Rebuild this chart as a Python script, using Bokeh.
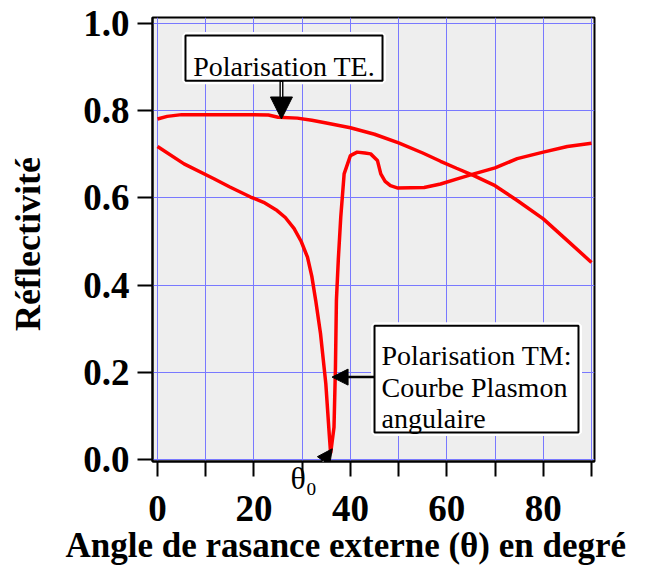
from bokeh.plotting import figure
from bokeh.models import (Range1d, FixedTicker, PrintfTickFormatter, Label, Arrow,
                          NormalHead, BoxAnnotation, LinearAxis, Title)
from bokeh.embed import file_html
from bokeh.resources import INLINE

# ---- data ----
te_angle = [0, 2, 5, 10, 15, 20, 23, 25, 29, 32, 35, 40, 45, 50, 55, 58.7, 62, 65.6,
            70, 74.6, 80, 85, 90]
te_refl = [0.781, 0.787, 0.791, 0.791, 0.791, 0.791, 0.790, 0.785, 0.783, 0.778, 0.772,
           0.761, 0.746, 0.726, 0.703, 0.684, 0.668, 0.651, 0.628, 0.594, 0.552, 0.502, 0.452]

tm_angle = [0, 5.5, 11.7, 15, 19.3, 22, 24.8, 26.5, 28.3, 29.8, 31.1, 32.0, 32.8, 33.8,
            34.9, 35.6, 35.9, 36.6, 36.9, 37.1, 37.5, 38.0, 38.7, 40.0, 41.4, 43.0, 44.2,
            45.6, 46.3, 47.2, 48.3, 49.7, 55.3, 58.7, 62, 65.6, 70, 74.6, 80, 85, 90]
tm_refl = [0.718, 0.678, 0.644, 0.625, 0.602, 0.590, 0.571, 0.555, 0.530, 0.500, 0.464,
           0.420, 0.365, 0.289, 0.174, 0.060, 0.014, 0.074, 0.212, 0.365, 0.460, 0.556,
           0.655, 0.697, 0.705, 0.703, 0.701, 0.686, 0.655, 0.638, 0.628, 0.623, 0.624,
           0.632, 0.643, 0.655, 0.669, 0.690, 0.705, 0.718, 0.7255]

x_label_ticks = [0, 20, 40, 60, 80]
x_all_ticks = [0, 10, 20, 30, 40, 50, 60, 70, 80, 90]
y_ticks = [0.0, 0.2, 0.4, 0.6, 0.8, 1.0]
theta_pos = 30.3

NBSP = "\u00a0"
x_title = "Angle de rasance externe (\u03b8) en degr\u00e9"
y_title = "R\u00e9flectivit\u00e9" + NBSP
theta_text = "\u03b8\u2080"
te_text = "Polarisation TE."
tm_lines = ["Polarisation TM:", "Courbe Plasmon", "angulaire"]

FONT = "Liberation Serif"
GRID = "#7878ff"

p = figure(frame_width=442, frame_height=444,
           min_border_left=152, min_border_top=17, min_border_right=51, min_border_bottom=109,
           x_range=Range1d(-1.04, 90.62), y_range=Range1d(-0.0046, 1.0138),
           output_backend="svg", toolbar_location=None)

p.background_fill_color = "#eeeeee"
p.border_fill_color = "white"
p.outline_line_color = "black"
p.outline_line_width = 2

# y axis
yt = FixedTicker(ticks=y_ticks, minor_ticks=[])
ya = p.yaxis[0]
ya.ticker = yt
ya.formatter = PrintfTickFormatter(format="%.1f")
ya.axis_line_width = 2
ya.axis_line_color = "black"
ya.major_tick_in = 0
ya.major_tick_out = 15
ya.major_tick_line_width = 2
ya.minor_tick_line_color = None
ya.major_label_text_font = FONT
ya.major_label_text_font_style = "bold"
ya.major_label_text_font_size = "37px"
ya.major_label_text_color = "black"
ya.major_label_standoff = 8
ya.axis_label = y_title
ya.axis_label_text_font = FONT
ya.axis_label_text_font_style = "bold"
ya.axis_label_text_font_size = "36px"
ya.axis_label_text_color = "black"
ya.axis_label_standoff = 32

# x axis A: tick marks every 10 and the theta_0 marker
xt = FixedTicker(ticks=[theta_pos], minor_ticks=x_all_ticks)
xa = p.xaxis[0]
xa.ticker = xt
xa.major_label_overrides = {theta_pos: theta_text}
xa.axis_line_width = 2
xa.axis_line_color = "black"
xa.major_tick_in = 0
xa.major_tick_out = 0
xa.minor_tick_in = 0
xa.minor_tick_out = 15
xa.minor_tick_line_width = 2
xa.minor_tick_line_color = "black"
xa.major_label_text_font = FONT
xa.major_label_text_font_size = "32px"
xa.major_label_text_color = "black"
xa.major_label_standoff = -17

# x axis B: numeric labels
xb = LinearAxis(ticker=FixedTicker(ticks=x_label_ticks, minor_ticks=[]))
xb.axis_line_color = None
xb.major_tick_line_color = None
xb.minor_tick_line_color = None
xb.major_tick_in = 0
xb.major_tick_out = 0
xb.minor_tick_in = 0
xb.minor_tick_out = 0
xb.major_label_text_font = FONT
xb.major_label_text_font_style = "bold"
xb.major_label_text_font_size = "37px"
xb.major_label_text_color = "black"
xb.major_label_standoff = -3
p.add_layout(xb, "below")

# x title (left aligned, shifted to match the reference)
p.add_layout(Title(text=x_title, align="left", offset=-87, vertical_align="top",
                   standoff=5, text_font=FONT, text_font_style="bold",
                   text_font_size="35px", text_color="black"), "below")

# grid (shares the axis tickers)
p.xgrid.ticker = xt
p.xgrid.grid_line_color = None
p.xgrid.minor_grid_line_color = GRID
p.xgrid.minor_grid_line_width = 1
p.ygrid.ticker = yt
p.ygrid.grid_line_color = GRID
p.ygrid.grid_line_width = 1

# curves
p.line(tm_angle, tm_refl, line_color="#ff0000", line_width=3.5)
p.line(te_angle, te_refl, line_color="#ff0000", line_width=3.5)

# TE box
for lw, lc in ((7, "white"), (2, "black")):
    p.add_layout(BoxAnnotation(left=5.8, right=46.66, top=0.9725, bottom=0.869,
                               fill_color="white", fill_alpha=1.0,
                               line_color=lc, line_alpha=1.0, line_width=lw))
p.add_layout(Label(x=7.4, y=0.902, text=te_text, text_font=FONT, text_font_size="28px",
                   text_color="black", text_baseline="alphabetic"))
# TE arrow (double shaft)
p.add_layout(Arrow(end=NormalHead(size=22, fill_color="black", line_color="black"),
                   x_start=25.7, y_start=0.869, x_end=25.7, y_end=0.781,
                   line_width=4, line_color="black"))
p.add_layout(Arrow(end=None, x_start=25.7, y_start=0.866, x_end=25.7, y_end=0.832,
                   line_width=1.2, line_color="white"))

# TM box
for lw, lc in ((7, "white"), (2, "black")):
    p.add_layout(BoxAnnotation(left=45.0, right=87.3, top=0.307, bottom=0.062,
                               fill_color="white", fill_alpha=1.0,
                               line_color=lc, line_alpha=1.0, line_width=lw))
for txt, yb in zip(tm_lines, [0.2385, 0.165, 0.094]):
    p.add_layout(Label(x=46.45, y=yb, text=txt, text_font=FONT, text_font_size="28px",
                       text_color="black", text_baseline="alphabetic"))
p.add_layout(Arrow(end=NormalHead(size=16, fill_color="black", line_color="black"),
                   x_start=45.0, y_start=0.189, x_end=36.2, y_end=0.189,
                   line_width=2.5, line_color="black"))

# theta_0 arrow (double shaft)
p.add_layout(Arrow(end=NormalHead(size=15, fill_color="black", line_color="black"),
                   x_start=31.1, y_start=-0.055, x_end=36.23, y_end=0.0245,
                   line_width=4, line_color="black"))
p.add_layout(Arrow(end=None, x_start=31.2, y_start=-0.053, x_end=34.43, y_end=-0.0034,
                   line_width=1.2, line_color="white"))

open("out.html", "w").write(file_html(p, INLINE))
